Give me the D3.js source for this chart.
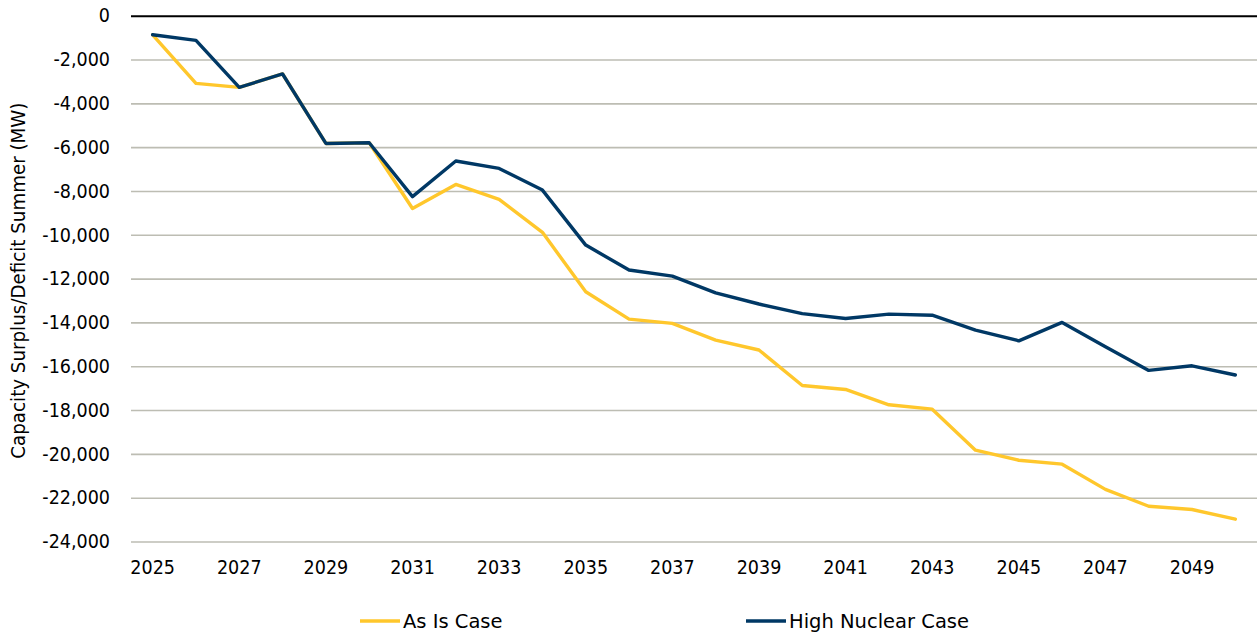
<!DOCTYPE html>
<html>
<head>
<meta charset="utf-8">
<script src="https://cdn.jsdelivr.net/npm/d3@7"></script>
<style>
  body { margin: 0; background: #fff; }
  svg { display: block; font-family: "DejaVu Sans Condensed", "DejaVu Sans", sans-serif; }
</style>
</head>
<body>
<svg id="chart"></svg>
<script>
const years = d3.range(2025, 2051);
const asIsCase = [
  -870, -3090, -3270, -2660, -5830, -5800, -8800, -7700, -8380, -9890,
  -12600, -13850, -14045, -14810, -15260, -16880, -17060, -17760, -17960, -19830,
  -20290, -20470, -21620, -22390, -22540, -22980
];
const highNuclearCase = [
  -870, -1125, -3270, -2660, -5830, -5800, -8260, -6630, -6970, -7960,
  -10470, -11610, -11885, -12650, -13160, -13600, -13820, -13620, -13670, -14350,
  -14840, -14000, -15110, -16190, -15980, -16400
];
const yTicks = d3.range(0, -24001, -2000);
const xTickYears = years.filter((y) => (y - 2025) % 2 === 0);

const series = [
  { name: "As Is Case", values: asIsCase, color: "#FFC72C" },
  { name: "High Nuclear Case", values: highNuclearCase, color: "#003865" }
];

const width = 1257;
const height = 634;
const margin = { top: 15.7, right: 0, bottom: 92.5, left: 131 };

// plain hyphen for negatives, like the original
const fmt = d3.formatLocale({ decimal: ".", thousands: ",", grouping: [3], currency: ["", ""], minus: "-" }).format(",");

const svg = d3.select("#chart").attr("width", width).attr("height", height);

const x = d3.scaleBand().domain(years).range([margin.left, width - margin.right]).padding(0);
const y = d3.scaleLinear().domain([-24000, 0]).range([height - margin.bottom, margin.top]);
const xc = (yr) => x(yr) + x.bandwidth() / 2;

// gridlines
svg.append("g")
  .attr("transform", `translate(${margin.left},0)`)
  .call(d3.axisLeft(y).tickValues(yTicks).tickSize(-(width - margin.left - margin.right)).tickFormat(""))
  .call((g) => g.select(".domain").remove())
  .call((g) => g.selectAll(".tick line")
    .attr("stroke", (d) => d === 0 ? "#000" : "#BDBDB3")
    .attr("stroke-width", (d) => d === 0 ? 2 : 1.6));

// y tick labels
svg.append("g")
  .attr("transform", `translate(${margin.left},0)`)
  .call(d3.axisLeft(y).tickValues(yTicks).tickSize(0).tickPadding(21).tickFormat(fmt))
  .call((g) => g.select(".domain").remove())
  .call((g) => g.selectAll("text").attr("font-size", 19.5).attr("fill", "#000")
    .attr("font-family", "'DejaVu Sans Condensed', 'DejaVu Sans', sans-serif"));

// x tick labels
svg.append("g")
  .attr("transform", `translate(0,${height - margin.bottom})`)
  .call(d3.axisBottom(x).tickValues(xTickYears).tickSize(0).tickPadding(19))
  .call((g) => g.select(".domain").remove())
  .call((g) => g.selectAll("text").attr("font-size", 19.5).attr("fill", "#000")
    .attr("font-family", "'DejaVu Sans Condensed', 'DejaVu Sans', sans-serif"));

// y axis title
svg.append("text")
  .attr("transform", `translate(25,${(margin.top + height - margin.bottom) / 2 + 2}) rotate(-90)`)
  .attr("text-anchor", "middle")
  .attr("font-size", 20.3)
  .attr("fill", "#000")
  .text("Capacity Surplus/Deficit Summer (MW)");

const line = d3.line()
  .x((d, i) => xc(years[i]))
  .y((d) => y(d));

svg.selectAll(".series")
  .data(series)
  .join("path")
  .attr("class", "series")
  .attr("fill", "none")
  .attr("stroke", (d) => d.color)
  .attr("stroke-width", 3.4)
  .attr("stroke-linejoin", "round")
  .attr("stroke-linecap", "round")
  .attr("d", (d) => line(d.values));

// legend
const legendX = [360, 746];
const legend = svg.selectAll(".legend")
  .data(series)
  .join("g")
  .attr("class", "legend")
  .attr("transform", (d, i) => `translate(${legendX[i]},621)`);

legend.append("line")
  .attr("x1", 0).attr("x2", 40)
  .attr("stroke", (d) => d.color)
  .attr("stroke-width", 3.4);

legend.append("text")
  .attr("x", 43)
  .attr("dy", "0.36em")
  .attr("font-size", 19.5)
  .attr("font-family", "'DejaVu Sans', sans-serif")
  .attr("fill", "#000")
  .text((d) => d.name);
</script>
</body>
</html>
